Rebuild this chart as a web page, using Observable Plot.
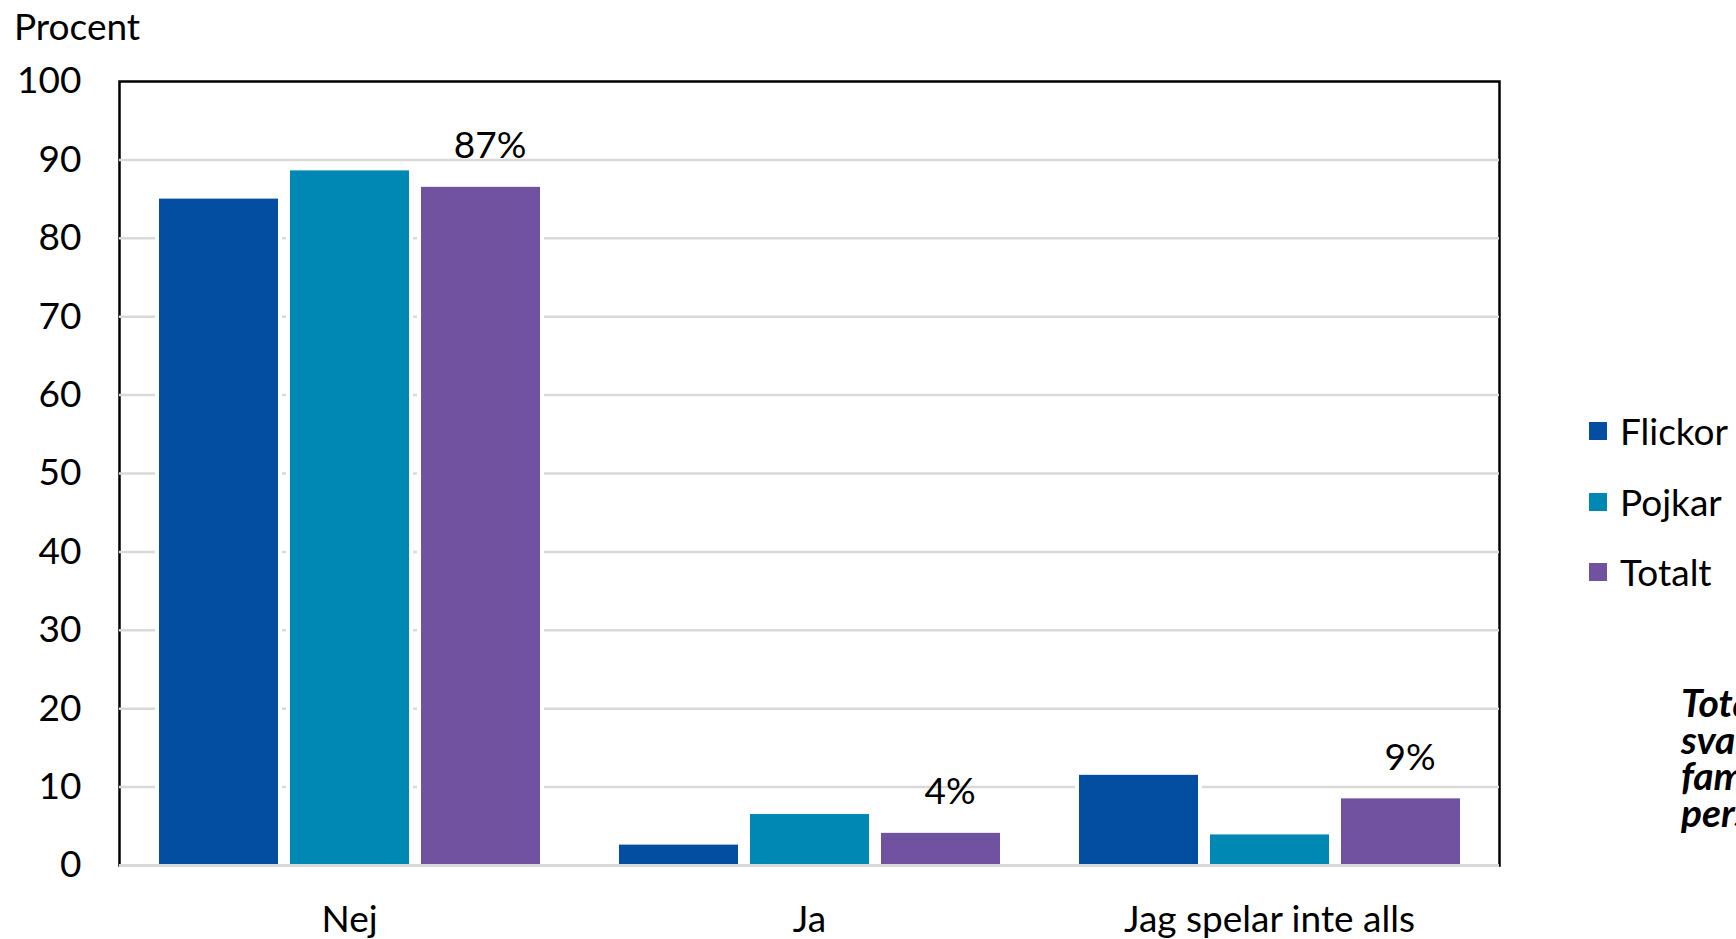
<!DOCTYPE html>
<html><head><meta charset="utf-8">
<script src="https://cdn.jsdelivr.net/npm/d3@7"></script>
<script src="https://cdn.jsdelivr.net/npm/@observablehq/plot@0.6"></script>
<style>
html,body{margin:0;padding:0;background:#fff;overflow:hidden;width:1736px;height:939px}
#wrap{position:relative;width:1736px;height:939px;font-family:Lato,"Open Sans",sans-serif;color:#000}
#wrap svg{position:absolute;left:0;top:0}
.ylab{position:absolute;left:14px;top:7px;font-size:37px;line-height:37px;white-space:nowrap}
.leg{position:absolute;left:1589px;font-size:37px;line-height:37px;white-space:nowrap}
.leg span.sw{position:absolute;left:0;top:10px;width:18px;height:18px}
.leg span.tx{position:absolute;left:31px;top:0}
.note{position:absolute;left:1681px;top:684px;font-size:39px;line-height:36.7px;font-weight:bold;font-style:italic;white-space:pre}
</style></head><body><div id="wrap"></div>
<script>
const categories = ["Nej", "Ja", "Jag spelar inte alls"];
const series = ["Flickor", "Pojkar", "Totalt"];
const flickor = [85.0, 2.6, 11.5];
const pojkar = [88.6, 6.5, 3.9];
const totalt = [86.5, 4.1, 8.5];
const colors = ["#044ea2", "#0088b5", "#7052a0"];
const yTicks = [0, 10, 20, 30, 40, 50, 60, 70, 80, 90, 100];
const gridTicks = [10, 20, 30, 40, 50, 60, 70, 80, 90];
const yLabel = "Procent";
const noteLines = ["Totalt antal", "svarande:", "familjen", "personer"];

const valuesBySeries = {Flickor: flickor, Pojkar: pojkar, Totalt: totalt};
const data = [];
categories.forEach((c, i) => series.forEach(s => data.push({category: c, series: s, value: valuesBySeries[s][i]})));
const totals = data.filter(d => d.series === "Totalt");

const chart = Plot.plot({
  width: 1736, height: 939,
  marginLeft: 118, marginRight: 236, marginTop: 81, marginBottom: 74,
  style: {fontFamily: "Lato, 'Open Sans', sans-serif", fontSize: "37px", color: "#000", background: "transparent"},
  fx: {domain: categories, padding: 0, label: null},
  x: {domain: series, paddingInner: 0.093, paddingOuter: 0.294, axis: null},
  y: {domain: [0, 100], label: null},
  color: {domain: series, range: colors},
  marks: [
    Plot.frame({facet: "super", stroke: "#000", strokeWidth: 2.5}),
    Plot.ruleY(gridTicks, {stroke: "#d9d9d9", strokeWidth: 2.5}),
    Plot.barY(data, {fx: "category", x: "series", y: "value", fill: "white", stroke: "white", strokeWidth: 8}),
    Plot.barY(data, {fx: "category", x: "series", y: "value", fill: "series"}),
    Plot.ruleY([0], {stroke: "#d9d9d9", strokeWidth: 3}),
    Plot.text(totals, {fx: "category", x: "series", y: "value", text: d => Math.round(d.value) + "%", dy: -41, dx: 9, fontSize: 37, fill: "#000"}),
    Plot.axisY(yTicks, {tickSize: 0, tickPadding: 38, label: null}),
    Plot.axisFx({anchor: "bottom", tickSize: 0, tickPadding: 40, label: null})
  ]
});

const wrap = document.getElementById("wrap");
wrap.appendChild(chart);

const yl = document.createElement("div");
yl.className = "ylab"; yl.textContent = yLabel; wrap.appendChild(yl);

const legTops = [412, 483, 553];
series.forEach((s, i) => {
  const row = document.createElement("div");
  row.className = "leg"; row.style.top = legTops[i] + "px";
  const sw = document.createElement("span"); sw.className = "sw"; sw.style.background = colors[i];
  const tx = document.createElement("span"); tx.className = "tx"; tx.textContent = s;
  row.appendChild(sw); row.appendChild(tx); wrap.appendChild(row);
});

const note = document.createElement("div");
note.className = "note"; note.textContent = noteLines.join("\n"); wrap.appendChild(note);
</script></body></html>
